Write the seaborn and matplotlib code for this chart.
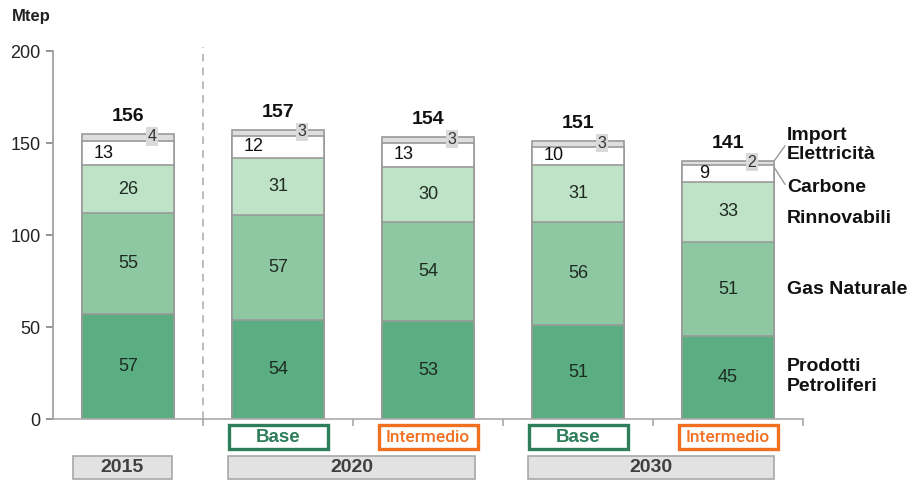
import matplotlib
matplotlib.use("Agg")
import matplotlib.pyplot as plt
import matplotlib.transforms as mtransforms
from matplotlib.patches import Rectangle
import numpy as np
import pandas as pd
import seaborn as sns

# Scenario columns
scenarios = ["2015", "2020 Base", "2020 Intermedio", "2030 Base", "2030 Intermedio"]

# Primary energy demand by source (Mtep)
petroliferi = [57, 54, 53, 51, 45]
gas_naturale = [55, 57, 54, 56, 51]
rinnovabili = [26, 31, 30, 31, 33]
carbone = [13, 12, 13, 10, 9]
import_el = [4, 3, 3, 3, 2]
totals = [156, 157, 154, 151, 141]

# Labels under the axis
scenario_tags = ["", "Base", "Intermedio", "Base", "Intermedio"]
year_groups = [("2015", -0.367, 0.293), ("2020", 0.667, 2.313), ("2030", 2.667, 4.307)]

sources = ["Prodotti\nPetroliferi", "Gas Naturale", "Rinnovabili", "Carbone", "Import\nElettricità"]
colors = ["#5aae82", "#8ec8a2", "#bfe3c7", "#ffffff", "#dedede"]
layers = [petroliferi, gas_naturale, rinnovabili, carbone, import_el]

sns.set_theme(style="white")
plt.rcParams["font.family"] = ["Liberation Sans", "DejaVu Sans"]

fig = plt.figure(figsize=(9.13, 4.8), dpi=100)
ax = fig.add_axes([53 / 913, 1 - 419 / 480, 750 / 913, 368 / 480])

df = pd.DataFrame({"scenario": scenarios})
cum = np.zeros(len(scenarios))
cums = []
for vals in layers:
    cum = cum + np.array(vals)
    cums.append(cum.copy())

# Stacked bars: draw cumulative heights from the top layer down
edge = "#9a9a9a"
for i in range(len(layers) - 1, -1, -1):
    df["h"] = cums[i]
    sns.barplot(data=df, x="scenario", y="h", color=colors[i], width=0.615,
                edgecolor=edge, linewidth=1.2, saturation=1, ax=ax)

ax.set_xlim(-0.5, 4.5)
ax.set_ylim(0, 200)
ax.set_xlabel("")
ax.set_ylabel("")
ax.set_yticks([0, 50, 100, 150, 200])
ax.tick_params(axis="y", labelsize=13, length=5, color="#888888", left=True,
               labelcolor="#222222", pad=4)
ax.set_xticks([0.5, 1.5, 2.5, 3.5, 4.5], minor=False)
ax.set_xticklabels([])
ax.tick_params(axis="x", length=5, color="#aaaaaa", bottom=True, direction="out")
for s in ["top", "right"]:
    ax.spines[s].set_visible(False)
ax.spines["left"].set_color("#999999")
ax.spines["bottom"].set_color("#aaaaaa")
ax.spines["left"].set_linewidth(1.2)
ax.spines["bottom"].set_linewidth(1.2)

# Separator between history and scenarios
ax.plot([0.5, 0.5], [0, 202], ls=(0, (5, 4)), color="#aaaaaa", lw=1.1, clip_on=False)

txt = "#1e2a22"
for j in range(len(scenarios)):
    base = 0
    for i, vals in enumerate(layers):
        v = vals[j]
        mid = base + v / 2
        if i < 3:
            ax.text(j, mid, str(v), ha="center", va="center", fontsize=13, color=txt)
        elif i == 3:
            ax.text(j - 0.16, mid, str(v), ha="center", va="center", fontsize=13, color="#111111")
        else:
            ax.text(j + 0.16, mid + 0.5, str(v), ha="center", va="center", fontsize=11.5,
                    color="#333333",
                    bbox=dict(boxstyle="square,pad=0.1", fc="#d9d9d9", ec="none"))
        base += v
    ax.text(j, cums[-1][j] + 9.5, str(totals[j]), ha="center", va="center",
            fontsize=14, fontweight="bold", color="#111111")

# Source labels on the right
tr_right = mtransforms.blended_transform_factory(fig.transFigure, ax.transData)
label_y = [23, 70.5, 109, 126, 149]
for name, y in zip(sources, label_y):
    ax.text(787 / 913, y, name, transform=tr_right, ha="left", va="center",
            fontsize=14, fontweight="bold", color="#111111", linespacing=1.2)
ax.plot([4.31, 4.38], [140.5, 148.5], color="#999999", lw=1, clip_on=False)
ax.plot([4.31, 4.38], [136.5, 127.5], color="#999999", lw=1, clip_on=False)

# Scenario tags and year groups below the axis
tr_below = mtransforms.blended_transform_factory(ax.transData, fig.transFigure)
tag_colors = {"Base": "#2e7d5b", "Intermedio": "#f07020"}
for j, tag in enumerate(scenario_tags):
    if not tag:
        continue
    c = tag_colors[tag]
    fig.patches.append(Rectangle((j - 0.33, 1 - 449 / 480), 0.66, 24 / 480,
                                 transform=tr_below, fill=False, ec=c, lw=2.4))
    if tag == "Base":
        fig.text(j, 1 - 437 / 480, tag, transform=tr_below, ha="center", va="center",
                 fontsize=13.5, fontweight="bold", color=c)
    else:
        fig.text(j, 1 - 437 / 480, tag, transform=tr_below, ha="center", va="center",
                 fontsize=12.5, fontweight="medium", color=c,
                 family=["Roboto", "Liberation Sans", "DejaVu Sans"])

for label, x0, x1 in year_groups:
    fig.patches.append(Rectangle((x0, 1 - 479 / 480), x1 - x0, 23 / 480,
                                 transform=tr_below, fc="#e2e2e2", ec="#a8a8a8", lw=1.2))
    fig.text((x0 + x1) / 2, 1 - 467.5 / 480, label, transform=tr_below, ha="center",
             va="center", fontsize=14, fontweight="bold", color="#404040")

fig.text(12 / 913, 1 - 17 / 480, "Mtep", ha="left", va="center", fontsize=12,
         fontweight="bold", color="#222222")

fig.savefig("out.png", dpi=100)
